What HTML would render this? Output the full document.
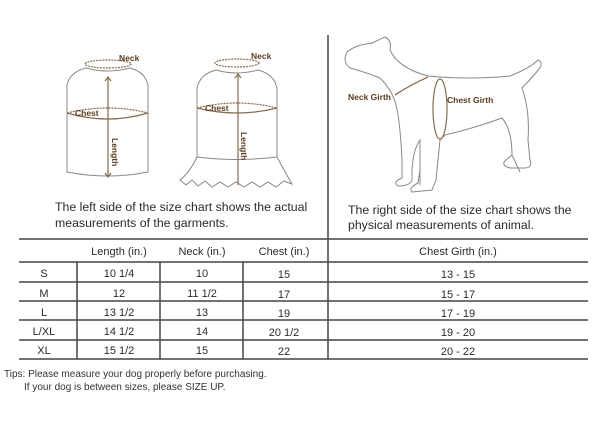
<!DOCTYPE html>
<html><head><meta charset="utf-8"><style>
body{margin:0;background:#fff;width:600px;height:423px;overflow:hidden;font-family:"Liberation Sans",sans-serif;}
svg{display:block}
</style></head><body>
<svg width="600" height="423" viewBox="0 0 600 423" font-family="Liberation Sans, sans-serif">
<g fill="none" stroke="#888" stroke-width="1">
<path d="M86,68 Q70,72 67,85 L67,172 Q108,180 148,172 L148,85 Q145,72 130,68 Q108,74 86,68Z"/>
<path d="M216,70 Q200,74 197,88 L197,157 Q237,162 277,157 L277,88 Q274,74 258,70 Q237,76 216,70Z"/>
<path d="M197,157 Q190,172 180,180 L186,185 L192,180 L198,186 L205,181 L212,187 L220,182 L228,187 L236,182 L244,187 L252,182 L260,187 L268,182 L276,187 L284,181 L292,184 Q285,172 277,157"/>
<path d="M347,52 Q355,45 372,43 L385,37 Q392,40 390,50 Q398,68 428,76 Q470,80 510,76 Q530,68 538,60 Q543,62 540,68 Q530,80 522,88 Q530,110 528,140 L530,160 Q533,168 524,168 L510,168 Q500,165 506,160 L512,155 Q512,130 502,118 Q475,128 445,135 L440,140 L436,180 L432,190 L412,192 Q408,188 418,183 L420,170 L420,140 Q413,150 412,170 L412,180 Q410,186 398,186 Q392,182 402,178 L402,160 Q400,120 396,105 Q392,90 380,78 Q365,72 350,68 Q342,62 347,52Z"/>
<path d="M420,140 L420,185 M512,155 L520,172"/>
</g>
<g fill="none" stroke="#8a6a48" stroke-width="1.2">
<ellipse cx="108" cy="64" rx="23" ry="4" stroke-dasharray="2,1"/>
<path d="M67,113 Q108,125 148,113" /><path d="M67,113 Q108,103 148,113" stroke-dasharray="2,1"/>
<path d="M108,78 L108,176 M105,81 L108,77 L111,81 M105,173 L108,177 L111,173"/>
<ellipse cx="237" cy="63" rx="22" ry="4" stroke-dasharray="2,1"/>
<path d="M197,108 Q237,118 277,108"/><path d="M197,108 Q237,98 277,108" stroke-dasharray="2,1"/>
<path d="M238,75 L238,185 M235,78 L238,74 L241,78"/>
<path d="M395,95 Q410,85 428,77" /><path d="M395,95 Q405,88 428,77" stroke-dasharray="1,1"/>
<ellipse cx="440" cy="109" rx="7" ry="30"/>
</g>
<g fill="#5c3d1e" font-weight="bold" font-size="8.5">
<text x="119" y="61">Neck</text><text x="75" y="116">Chest</text>
<text x="251" y="59">Neck</text><text x="205" y="111">Chest</text>
<text x="112" y="138" transform="rotate(90 112 138)">Length</text>
<text x="241" y="132" transform="rotate(90 241 132)">Length</text>
<text x="348" y="100">Neck Girth</text><text x="447" y="103">Chest Girth</text>
</g>
<g fill="#2a2a2a" font-size="12.3">
<text x="55" y="211">The left side of the size chart shows the actual</text>
<text x="55" y="227">measurements of the garments.</text>
<text x="348" y="214">The right side of the size chart shows the</text>
<text x="348" y="229">physical measurements of animal.</text>
</g>
<g stroke="#444" stroke-width="1.5">
<line x1="328" y1="35" x2="328" y2="359"/>
<line x1="19" y1="239" x2="588" y2="239"/>
<line x1="19" y1="262" x2="588" y2="262"/>
<line x1="19" y1="282" x2="588" y2="282"/>
<line x1="19" y1="301" x2="588" y2="301"/>
<line x1="19" y1="320" x2="588" y2="320"/>
<line x1="19" y1="340" x2="588" y2="340"/>
<line x1="19" y1="359" x2="588" y2="359"/>
<line x1="77" y1="262" x2="77" y2="359"/>
<line x1="160" y1="262" x2="160" y2="359"/>
<line x1="243" y1="262" x2="243" y2="359"/>
</g>
<g fill="#2a2a2a" font-size="11" text-anchor="middle">
<text x="119" y="255">Length (in.)</text><text x="202" y="255">Neck (in.)</text><text x="284" y="255">Chest (in.)</text><text x="458" y="255">Chest Girth (in.)</text>
<text x="44" y="277">S</text><text x="119" y="277">10 1/4</text><text x="202" y="277">10</text><text x="284" y="278">15</text><text x="458" y="278">13 - 15</text>
<text x="44" y="297">M</text><text x="119" y="297">12</text><text x="202" y="297">11 1/2</text><text x="284" y="298">17</text><text x="458" y="298">15 - 17</text>
<text x="44" y="316">L</text><text x="119" y="316">13 1/2</text><text x="202" y="316">13</text><text x="284" y="317">19</text><text x="458" y="317">17 - 19</text>
<text x="44" y="335">L/XL</text><text x="119" y="335">14 1/2</text><text x="202" y="335">14</text><text x="284" y="336">20 1/2</text><text x="458" y="336">19 - 20</text>
<text x="44" y="354">XL</text><text x="119" y="354">15 1/2</text><text x="202" y="354">15</text><text x="284" y="355">22</text><text x="458" y="355">20 - 22</text>
</g>
<g fill="#333" font-size="10">
<text x="4" y="377">Tips: Please measure your dog properly before purchasing.</text>
<text x="24" y="390">If your dog is between sizes, please SIZE UP.</text>
</g>
</svg>
</body></html>
